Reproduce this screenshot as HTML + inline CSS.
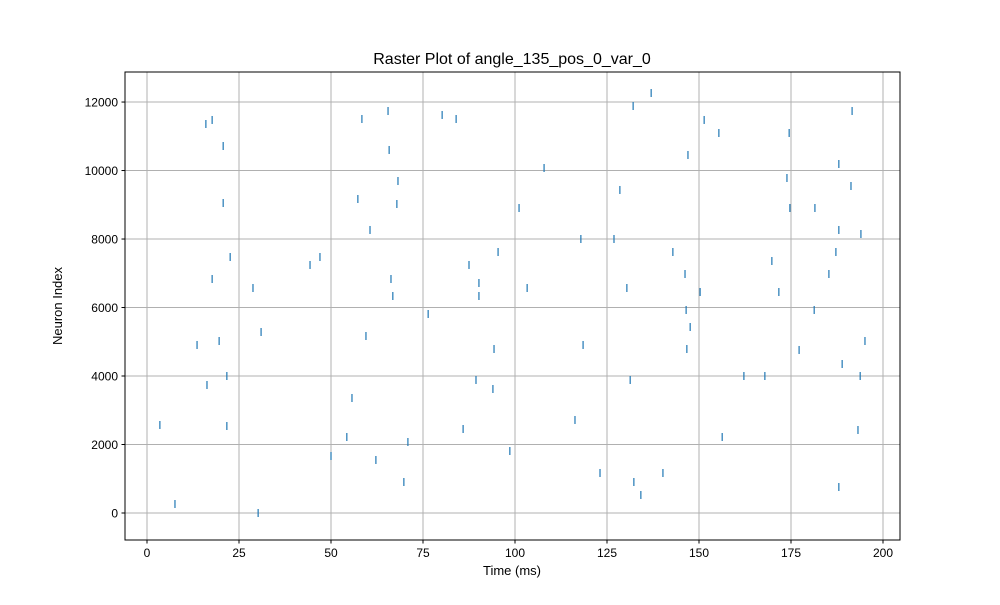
<!DOCTYPE html>
<html><head><meta charset="utf-8"><style>
body{margin:0;background:#fff}
svg text{font-family:"Liberation Sans","DejaVu Sans",sans-serif;fill:#000}
</style></head><body>
<svg id="chart" width="1000" height="600" xmlns="http://www.w3.org/2000/svg">
<rect width="1000" height="600" fill="#fff"/>
<text x="512" y="64" font-size="16" text-anchor="middle">Raster Plot of angle_135_pos_0_var_0</text>
<g id="grid"></g>
<g id="marks"></g>
<rect x="125" y="72" width="775" height="468" fill="none" stroke="#000" stroke-width="1"/>
<g id="ticks"></g>
<text x="512" y="575" font-size="13" text-anchor="middle">Time (ms)</text>
<text x="62" y="306" font-size="13" text-anchor="middle" transform="rotate(-90 62 306)">Neuron Index</text>
</svg>
<script>
const spikeTimes=[3.5,7.6,16.0,17.7,20.7,20.7,17.7,16.3,13.6,19.6,21.7,21.7,22.6,28.8,31.0,30.2,44.3,47.0,50.0,54.3,55.7,58.4,57.3,60.6,59.5,62.2,65.5,65.8,66.3,66.8,68.2,67.9,70.9,69.8,76.4,80.2,84.0,85.9,87.5,89.4,90.2,90.2,94.3,94.0,95.4,98.6,101.1,103.3,107.9,116.3,117.9,118.5,123.1,126.9,128.5,130.4,131.3,132.1,132.3,134.2,137.0,140.2,142.9,146.2,146.5,146.7,147.0,147.6,150.3,151.4,155.4,156.3,162.2,167.9,169.8,171.7,173.9,174.5,174.7,177.2,181.3,181.5,185.3,187.2,188.0,188.0,188.0,188.9,191.3,191.6,193.2,193.8,194.0,195.1];
const neuronIds=[2570,263,11359,11476,10716,9052,6833,3738,4906,5022,4000,2540,7475,6570,5285,0,7242,7475,1664,2219,3358,11505,9169,8264,5168,1548,11738,10600,6833,6336,9694,9023,2073,905,5811,11622,11505,2453,7242,3884,6716,6336,4789,3621,7621,1810,8906,6570,10074,2716,8001,4906,1168,8001,9432,6570,3884,11884,905,526,12264,1168,7621,6979,5928,4789,10454,5431,6453,11476,11096,2219,4000,4000,7358,6453,9782,11096,8906,4760,5928,8906,6979,7621,759,10191,8264,4351,9548,11738,2424,4000,8147,5022];
const xTicks=[0,25,50,75,100,125,150,175,200];
const yTicks=[0,2000,4000,6000,8000,10000,12000];
const NS="http://www.w3.org/2000/svg";
const xs=v=>147+v*3.68;
const ys=v=>513-v*0.034247;
const grid=document.getElementById('grid'),ticks=document.getElementById('ticks'),marks=document.getElementById('marks');
function mk(tag,attrs,parent){const e=document.createElementNS(NS,tag);for(const k in attrs)e.setAttribute(k,attrs[k]);parent.appendChild(e);return e;}
xTicks.forEach(t=>{const x=xs(t);
 const g=mk('line',{x1:x,x2:x,y1:72,y2:540,stroke:'#b0b0b0','stroke-width':1},grid);
 
 
 mk('line',{x1:x,x2:x,y1:540,y2:543.5,stroke:'#000'},ticks);
 const l=mk('text',{x:x,y:557,'font-size':12,'text-anchor':'middle'},ticks);l.textContent=t;
 
 
});
yTicks.forEach(t=>{const y=ys(t);
 const g=mk('line',{x1:125,x2:900,y1:y,y2:y,stroke:'#b0b0b0','stroke-width':1},grid);
 
 
 mk('line',{x1:121.5,x2:125,y1:y,y2:y,stroke:'#000'},ticks);
 const l=mk('text',{x:118,y:y+4.5,'font-size':12,'text-anchor':'end'},ticks);l.textContent=t;
 
 
});
spikeTimes.forEach((t,i)=>{const x=xs(t),y=ys(neuronIds[i]);
 const m=mk('line',{x1:x,x2:x,y1:y-4,y2:y+4,stroke:'#1f77b4','stroke-width':1.2},marks);
 
 
});
</script>
</body></html>
